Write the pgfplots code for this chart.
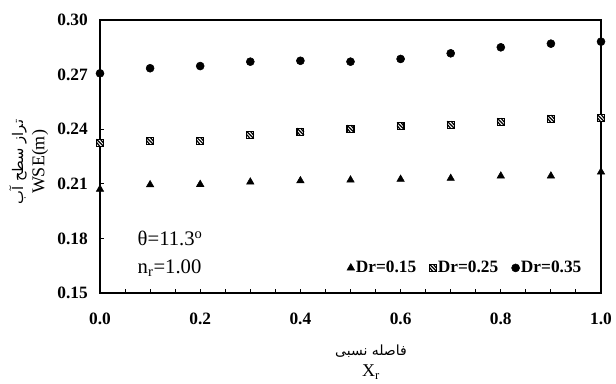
\documentclass[border=0pt]{standalone}
\usepackage{fontspec}
\setmainfont{Liberation Serif}
\newfontfamily\fa[Script=Arabic]{DejaVu Sans}
\TeXXeTstate=1
\usepackage{pgfplots}
\pgfplotsset{compat=1.18}

\pgfdeclareplotmark{hatchsq}{%
  \pgfpathrectangle{\pgfqpoint{-\pgfplotmarksize}{-\pgfplotmarksize}}{\pgfqpoint{2\pgfplotmarksize}{2\pgfplotmarksize}}%
  \pgfusepathqfillstroke
  \pgfsetlinewidth{0.9pt}%
  \pgfpathmoveto{\pgfqpoint{-\pgfplotmarksize}{\pgfplotmarksize}}%
  \pgfpathlineto{\pgfqpoint{\pgfplotmarksize}{-\pgfplotmarksize}}%
  \pgfusepathqstroke
  \pgfpathmoveto{\pgfqpoint{-\pgfplotmarksize}{0.1\pgfplotmarksize}}%
  \pgfpathlineto{\pgfqpoint{-0.1\pgfplotmarksize}{-\pgfplotmarksize}}%
  \pgfusepathqstroke
  \pgfpathmoveto{\pgfqpoint{0.1\pgfplotmarksize}{\pgfplotmarksize}}%
  \pgfpathlineto{\pgfqpoint{\pgfplotmarksize}{-0.1\pgfplotmarksize}}%
  \pgfusepathqstroke
}

\pgfplotsset{
  lim/.style={legend image code/.code={\draw[mark repeat=2,mark phase=2,##1] plot coordinates {(0cm,0cm) (0.13cm,0cm) (0.26cm,0cm)};}}
}

\begin{document}
\begin{tikzpicture}
\begin{axis}[
  scale only axis,
  width=375.75pt, height=204.75pt,
  xmin=0, xmax=1, ymin=0.15, ymax=0.30,
  xtick={0,0.2,0.4,0.6,0.8,1.0},
  minor x tick num=3,
  ytick={0.15,0.18,0.21,0.24,0.27,0.30},
  tick align=inside,
  xtick pos=bottom, ytick pos=left,
  major tick length=3pt, minor tick length=3pt,
  axis line style={line width=1pt},
  tick style={line width=0.8pt, black},
  /pgf/number format/assume math mode=true,
  ticklabel style={font=\bfseries\fontsize{13}{15}\selectfont},
  xticklabel style={/pgf/number format/fixed, /pgf/number format/fixed zerofill, /pgf/number format/precision=1,
    inner sep=0pt, anchor=north, yshift=-15pt},
  yticklabel style={/pgf/number format/fixed, /pgf/number format/fixed zerofill, /pgf/number format/precision=2,
    inner sep=0pt, anchor=east, xshift=-9pt},
  clip=false,
  legend style={at={(0.964,0.092)}, anchor=east, draw=none, fill=none,
    font=\bfseries\fontsize{13}{15}\selectfont,
    /tikz/every even column/.append style={column sep=9pt},
    inner sep=0pt, nodes={inner sep=1pt}},
  legend columns=3,
]
\addplot[only marks, lim, mark=triangle*, mark size=3.2pt, black] coordinates {
(0.0,0.2070) (0.1,0.2095) (0.2,0.2097) (0.3,0.2110) (0.4,0.2117) (0.5,0.2121)
(0.6,0.2125) (0.7,0.2130) (0.8,0.2143) (0.9,0.2143) (1.0,0.2165)};
\addlegendentry{Dr=0.15}
\addplot[only marks, lim, mark=hatchsq, mark size=2.6pt, black, mark options={fill=white, line width=0.7pt}] coordinates {
(0.0,0.2326) (0.1,0.2335) (0.2,0.2336) (0.3,0.2368) (0.4,0.2386) (0.5,0.2403)
(0.6,0.2418) (0.7,0.2425) (0.8,0.2441) (0.9,0.2458) (1.0,0.2460)};
\addlegendentry{Dr=0.25}
\addplot[only marks, lim, mark=*, mark size=3pt, black] coordinates {
(0.0,0.2707) (0.1,0.2735) (0.2,0.2747) (0.3,0.2771) (0.4,0.2776) (0.5,0.2771)
(0.6,0.2786) (0.7,0.2817) (0.8,0.2850) (0.9,0.2870) (1.0,0.2881)};
\addlegendentry{Dr=0.35}
\end{axis}
\node[anchor=west, font=\fontsize{15.5}{17}\selectfont] at (24.75pt,41.25pt) {θ=11.3\textsuperscript{o}};
\node[anchor=west, font=\fontsize{15.5}{17}\selectfont] at (24.75pt,18.75pt) {n\textsubscript{r}=1.00};
\node[rotate=90, font=\fa\fontsize{11}{13}\selectfont] at (-61.5pt,98.25pt) {\beginR تراز سطح آب\endR};
\node[rotate=90, font=\fontsize{13.5}{15}\selectfont] at (-45pt,98.25pt) {WSE(m)};
\node[font=\fa\fontsize{10.5}{12}\selectfont] at (203.25pt,-43.5pt) {\beginR فاصله نسبی\endR};
\node[anchor=base, font=\fontsize{13.5}{15}\selectfont] at (203.25pt,-62.5pt) {X\textsubscript{r}};
\pgfresetboundingbox
\path (-75pt,-67.5pt) rectangle (387pt,219.75pt);
\end{tikzpicture}
\end{document}
